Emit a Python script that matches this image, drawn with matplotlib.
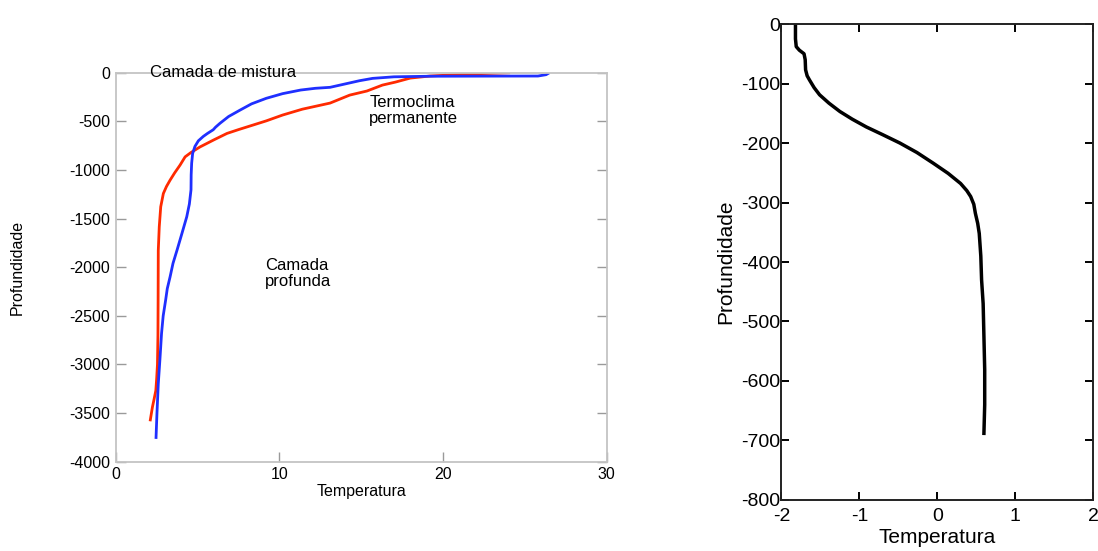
import matplotlib
matplotlib.use('Agg')
import matplotlib.pyplot as plt

plt.rcParams['font.family'] = ['Liberation Sans', 'DejaVu Sans']
plt.rcParams['axes.unicode_minus'] = False

# perfil 1 (vermelho): temperatura x profundidade
red_temp = [24.1, 21.6, 19.2, 18.0, 17.1, 16.3, 15.35, 14.3, 13.1, 11.4, 10.2, 9.2,
            8.2, 7.5, 6.8, 6.0, 5.15, 4.6, 4.24, 3.93, 3.6, 3.32, 3.1, 2.91, 2.75,
            2.66, 2.6, 2.59, 2.58, 2.55, 2.5, 2.45, 2.34, 2.24, 2.1]
red_depth = [0, -13, -34, -55, -96, -127, -188, -230, -312, -375, -435, -495,
             -548, -585, -624, -690, -763, -820, -865, -950, -1030, -1105, -1170,
             -1242, -1378, -1584, -1828, -2340, -2700, -3000, -3150, -3268, -3360,
             -3440, -3584]

# perfil 2 (azul)
blue_temp = [26.5, 26.3, 25.8, 22.0, 19.2, 17.0, 15.7, 14.9, 13.1, 12.2, 11.3, 10.2,
             9.2, 8.3, 7.6, 6.9, 6.37, 6.1, 5.96, 5.6, 5.35, 5.05, 4.84, 4.7, 4.64,
             4.61, 4.6, 4.5, 4.34, 4.05, 3.75, 3.5, 3.32, 3.15, 3.05, 2.9, 2.8, 2.7,
             2.6, 2.52, 2.46]
blue_depth = [0, -20, -34, -35, -36, -42, -58, -82, -150, -160, -178, -215,
              -263, -320, -384, -450, -520, -560, -586, -625, -655, -700, -758,
              -830, -930, -1050, -1204, -1350, -1481, -1650, -1822, -1960, -2100,
              -2220, -2338, -2500, -2680, -2950, -3200, -3500, -3765]

# perfil 3 (preto)
black_temp = [-1.82, -1.82, -1.81, -1.77, -1.71, -1.695, -1.69, -1.67, -1.64, -1.58,
              -1.51, -1.39, -1.25, -1.09, -0.91, -0.70, -0.48, -0.26, -0.05, 0.14,
              0.30, 0.38, 0.43, 0.47, 0.49, 0.52, 0.54, 0.56, 0.57, 0.59, 0.60,
              0.61, 0.61, 0.60]
black_depth = [0, -25, -38, -44, -50, -60, -77, -87, -94, -107, -119, -133,
               -147, -160, -173, -186, -200, -216, -234, -251, -268, -280, -290,
               -303, -318, -335, -352, -390, -430, -470, -525, -581, -640, -688]

left_yticks = [0, -500, -1000, -1500, -2000, -2500, -3000, -3500, -4000]
left_xticks = [0, 10, 20, 30]
right_yticks = [0, -100, -200, -300, -400, -500, -600, -700, -800]
right_xticks = [-2, -1, 0, 1, 2]

fig = plt.figure(figsize=(10.98, 5.51), dpi=100)

# --- painel esquerdo ---
ax1 = fig.add_axes([0.1054, 0.162, 0.4471, 0.706])
ax1.plot(red_temp, red_depth, color='#ff2a00', lw=2.0,
         solid_capstyle='butt', solid_joinstyle='round')
ax1.plot(blue_temp, blue_depth, color='#1f2fff', lw=2.0,
         solid_capstyle='butt', solid_joinstyle='round')
ax1.set_xlim(0, 30)
ax1.set_ylim(-4000, 0)
ax1.set_xticks(left_xticks)
ax1.set_yticks(left_yticks)
for s in ax1.spines.values():
    s.set_color('#c4c4c4')
    s.set_linewidth(1.3)
ax1.tick_params(direction='in', length=7, color='#9a9a9a', width=1.0,
                labelsize=11.5, left=True, right=True, bottom=True, top=False,
                pad=4)
ax1.set_xlabel('Temperatura', fontsize=11.5, labelpad=1)
ax1.set_ylabel('Profundidade', fontsize=11.5, labelpad=32)
ax1.text(2.1, 0, 'Camada de mistura', fontsize=12, va='center', ha='left')
ax1.text(15.5, -230, 'Termoclima\npermanente', fontsize=12, va='top',
         ha='left', linespacing=1.1)
ax1.text(9.1, -1900, 'Camada\nprofunda', fontsize=12, va='top',
         ha='left', linespacing=1.1)

# --- painel direito ---
ax2 = fig.add_axes([0.7117, 0.0926, 0.2837, 0.8638])
ax2.plot(black_temp, black_depth, color='black', lw=2.5,
         solid_joinstyle='round')
ax2.set_xlim(-2, 2)
ax2.set_ylim(-800, 0)
ax2.set_xticks(right_xticks)
ax2.set_yticks(right_yticks)
for s in ax2.spines.values():
    s.set_color('#222222')
    s.set_linewidth(1.4)
ax2.tick_params(direction='in', length=6, width=1.4, labelsize=14,
                left=True, right=True, bottom=True, top=True, pad=1)
ax2.tick_params(axis='x', pad=6)
ax2.set_xlabel('Temperatura', fontsize=15, labelpad=2)
ax2.set_ylabel('Profundidade', fontsize=15, labelpad=4)

fig.savefig('out.png', dpi=100)
